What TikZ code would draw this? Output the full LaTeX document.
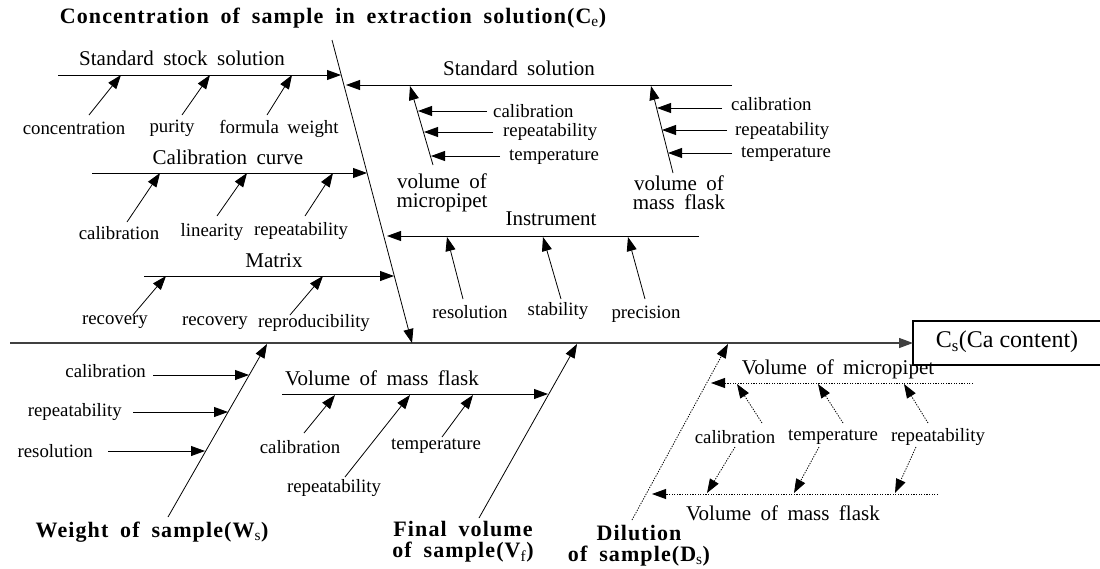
\documentclass[tikz,border=0pt]{standalone}
\usepackage{fontspec}
\setmainfont{Liberation Serif}[WordSpace=1.8]
\newfontfamily\boldfam{Liberation Serif}[WordSpace=1.8,LetterSpace=5]
\newfontfamily\plainfam{Liberation Serif}
\usetikzlibrary{arrows.meta}
\begin{document}
\begin{tikzpicture}[x=1pt,y=-1pt,
  bone/.style={draw, line width=0.8pt, -{Triangle[length=14pt,width=10pt]}},
  dbone/.style={bone, dash pattern=on 1.3pt off 1.3pt},
  spine/.style={draw, line width=1.3pt, black!75, -{Triangle[length=14pt,width=10pt]}},
  sm/.style={font=\fontsize{18.8}{19}\selectfont, inner sep=0pt},
  ttl/.style={font=\fontsize{21}{19}\selectfont, inner sep=0pt, align=center},
  bld/.style={font=\boldfam\bfseries\fontsize{22}{21}\selectfont, inner sep=0pt, align=center}]
\useasboundingbox (0,0) rectangle (1100,568);

% result box and spine
\node[inner sep=0pt, minimum width=250pt, minimum height=44pt, anchor=west] (cs) at (913,343) {};
\draw[line width=2.4pt] (cs.north east) -- (cs.north west) -- (cs.south west) -- (cs.south east);
\node[inner sep=0pt, font=\plainfam\fontsize{24}{24}\selectfont] (cst) at (1007,342) {C\textsubscript{s}(Ca content)};
\coordinate (sp0) at (10,343);
\draw[spine] (sp0) -- (cs.west);

% ---------- Concentration bone ----------
\node[bld] (ceL) at (333,18) {Concentration of sample in extraction solution(C\textsubscript{\mdseries e})};
\coordinate (ce0) at (332,40);
\coordinate (ce1) at (412,343);
\draw[bone] (ce0) -- (ce1);

% Standard stock solution
\node[ttl] (sssL) at (182,58) {Standard stock solution};
\coordinate (sss0) at (58,75); \coordinate (sss1) at (341,75);
\draw[bone] (sss0) -- (sss1);
\node[sm] (l1) at (74,128) {concentration};
\node[sm] (l2) at (172,128) {purity};
\node[sm] (l3) at (279,129) {formula weight};
\coordinate (a1) at (89,115);  \coordinate (b1) at (121,75);
\coordinate (a2) at (182,115); \coordinate (b2) at (210,75);
\coordinate (a3) at (267,115); \coordinate (b3) at (292,75);
\draw[bone] (a1) -- (b1); \draw[bone] (a2) -- (b2); \draw[bone] (a3) -- (b3);

% Calibration curve
\node[ttl] (ccL) at (228,157) {Calibration curve};
\coordinate (cc0) at (92,173); \coordinate (cc1) at (367,173);
\draw[bone] (cc0) -- (cc1);
\node[sm] (l4) at (119,233) {calibration};
\node[sm] (l5) at (212,232) {linearity};
\node[sm] (l6) at (301,231) {repeatability};
\coordinate (a4) at (127,222); \coordinate (b4) at (160,173);
\coordinate (a5) at (217,216); \coordinate (b5) at (247,173);
\coordinate (a6) at (305,216); \coordinate (b6) at (333,173);
\draw[bone] (a4) -- (b4); \draw[bone] (a5) -- (b5); \draw[bone] (a6) -- (b6);

% Matrix
\node[ttl] (mxL) at (274,261) {Matrix};
\coordinate (mx0) at (144,276); \coordinate (mx1) at (394,276);
\draw[bone] (mx0) -- (mx1);
\node[sm] (l7) at (115,322) {recovery};
\node[sm] (l8) at (215,323) {recovery};
\node[sm] (l9) at (314,323) {reproducibility};
\coordinate (a7) at (133,315); \coordinate (b7) at (166,276);
\coordinate (a9) at (290,315); \coordinate (b9) at (323,276);
\draw[bone] (a7) -- (b7); \draw[bone] (a9) -- (b9);

% Standard solution
\node[ttl] (ssL) at (519,68) {Standard solution};
\coordinate (ss0) at (732,85); \coordinate (ss1) at (346,85);
\draw[bone] (ss0) -- (ss1);
% volume of micropipet
\node[ttl] (vmL) at (442,193) {volume of\\micropipet};
\coordinate (vm0) at (433,165); \coordinate (vm1) at (410,86);
\draw[bone] (vm0) -- (vm1);
\node[sm, anchor=west] (l10) at (493,111) {calibration};
\node[sm, anchor=west] (l11) at (503,132) {repeatability};
\node[sm, anchor=west] (l12) at (509,157) {temperature};
\coordinate (a10) at (487,111); \coordinate (b10) at (418,111);
\coordinate (a11) at (493,132); \coordinate (b11) at (424,132);
\coordinate (a12) at (500,156); \coordinate (b12) at (431,156);
\draw[bone] (a10) -- (b10); \draw[bone] (a11) -- (b11); \draw[bone] (a12) -- (b12);
% volume of mass flask
\node[ttl] (vfL) at (679,193) {volume of\\mass flask};
\coordinate (vf0) at (673,173); \coordinate (vf1) at (651,86);
\draw[bone] (vf0) -- (vf1);
\node[sm, anchor=west] (l13) at (731,104) {calibration};
\node[sm, anchor=west] (l14) at (735,131) {repeatability};
\node[sm, anchor=west] (l15) at (741,154) {temperature};
\coordinate (a13) at (722,108); \coordinate (b13) at (657,108);
\coordinate (a14) at (727,130); \coordinate (b14) at (662,130);
\coordinate (a15) at (732,153); \coordinate (b15) at (668,153);
\draw[bone] (a13) -- (b13); \draw[bone] (a14) -- (b14); \draw[bone] (a15) -- (b15);

% Instrument
\node[ttl] (inL) at (551,219) {Instrument};
\coordinate (in0) at (699,236); \coordinate (in1) at (387,236);
\draw[bone] (in0) -- (in1);
\node[sm] (l16) at (470,312) {resolution};
\node[sm] (l17) at (558,311) {stability};
\node[sm] (l18) at (646,314) {precision};
\coordinate (a16) at (463,299); \coordinate (b16) at (447,237);
\coordinate (a17) at (561,299); \coordinate (b17) at (543,237);
\coordinate (a18) at (645,299); \coordinate (b18) at (628,237);
\draw[bone] (a16) -- (b16); \draw[bone] (a17) -- (b17); \draw[bone] (a18) -- (b18);

% ---------- Weight of sample ----------
\node[bld] (wsL) at (152,532) {Weight of sample(W\textsubscript{\mdseries s})};
\coordinate (ws0) at (168,517); \coordinate (ws1) at (267,344);
\draw[bone] (ws0) -- (ws1);
\node[sm, anchor=east] (l19) at (146,371) {calibration};
\node[sm, anchor=east] (l20) at (122,412) {repeatability};
\node[sm, anchor=east] (l21) at (93,451) {resolution};
\coordinate (a19) at (153,375); \coordinate (b19) at (249,375);
\coordinate (a20) at (133,412); \coordinate (b20) at (228,412);
\coordinate (a21) at (108,451); \coordinate (b21) at (205,451);
\draw[bone] (a19) -- (b19); \draw[bone] (a20) -- (b20); \draw[bone] (a21) -- (b21);

% ---------- Final volume ----------
\node[bld] (fvL) at (463,542) {Final volume\\of sample(V\textsubscript{\mdseries f})};
\coordinate (fv0) at (479,518); \coordinate (fv1) at (577,344);
\draw[bone] (fv0) -- (fv1);
\node[ttl] (mfL) at (382,378) {Volume of mass flask};
\coordinate (mf0) at (282,394); \coordinate (mf1) at (548,394);
\draw[bone] (mf0) -- (mf1);
\node[sm] (l22) at (300,447) {calibration};
\node[sm] (l23) at (334,488) {repeatability};
\node[sm] (l24) at (436,446) {temperature};
\coordinate (a22) at (304,433); \coordinate (b22) at (335,395);
\coordinate (a23) at (345,477); \coordinate (b23) at (410,395);
\coordinate (a24) at (442,437); \coordinate (b24) at (473,395);
\draw[bone] (a22) -- (b22); \draw[bone] (a23) -- (b23); \draw[bone] (a24) -- (b24);

% ---------- Dilution ----------
\node[bld] (dsL) at (639,546) {Dilution\\of sample(D\textsubscript{\mdseries s})};
\coordinate (ds0) at (632,520); \coordinate (ds1) at (728,344);
\draw[dbone] (ds0) -- (ds1);
\node[ttl] (dmL) at (838,369) {Volume of micropipet};
\coordinate (dm0) at (973,383); \coordinate (dm1) at (711,383);
\draw[dbone] (dm0) -- (dm1);
\node[ttl] (dfL) at (783,513) {Volume of mass flask};
\coordinate (df0) at (938,494); \coordinate (df1) at (652,494);
\draw[dbone] (df0) -- (df1);
\node[sm] (l25) at (735,437) {calibration};
\node[sm] (l26) at (833,437) {temperature};
\node[sm] (l27) at (938,437) {repeatability};
\coordinate (a25) at (762,423); \coordinate (b25) at (737,384);
\coordinate (a26) at (843,423); \coordinate (b26) at (818,384);
\coordinate (a27) at (928,423); \coordinate (b27) at (904,384);
\draw[dbone] (a25) -- (b25); \draw[dbone] (a26) -- (b26); \draw[dbone] (a27) -- (b27);
\coordinate (c25) at (735,447); \coordinate (d25) at (707,493);
\coordinate (c26) at (819,447); \coordinate (d26) at (794,493);
\coordinate (c27) at (916,447); \coordinate (d27) at (895,493);
\draw[dbone] (c25) -- (d25); \draw[dbone] (c26) -- (d26); \draw[dbone] (c27) -- (d27);
\end{tikzpicture}
\end{document}
